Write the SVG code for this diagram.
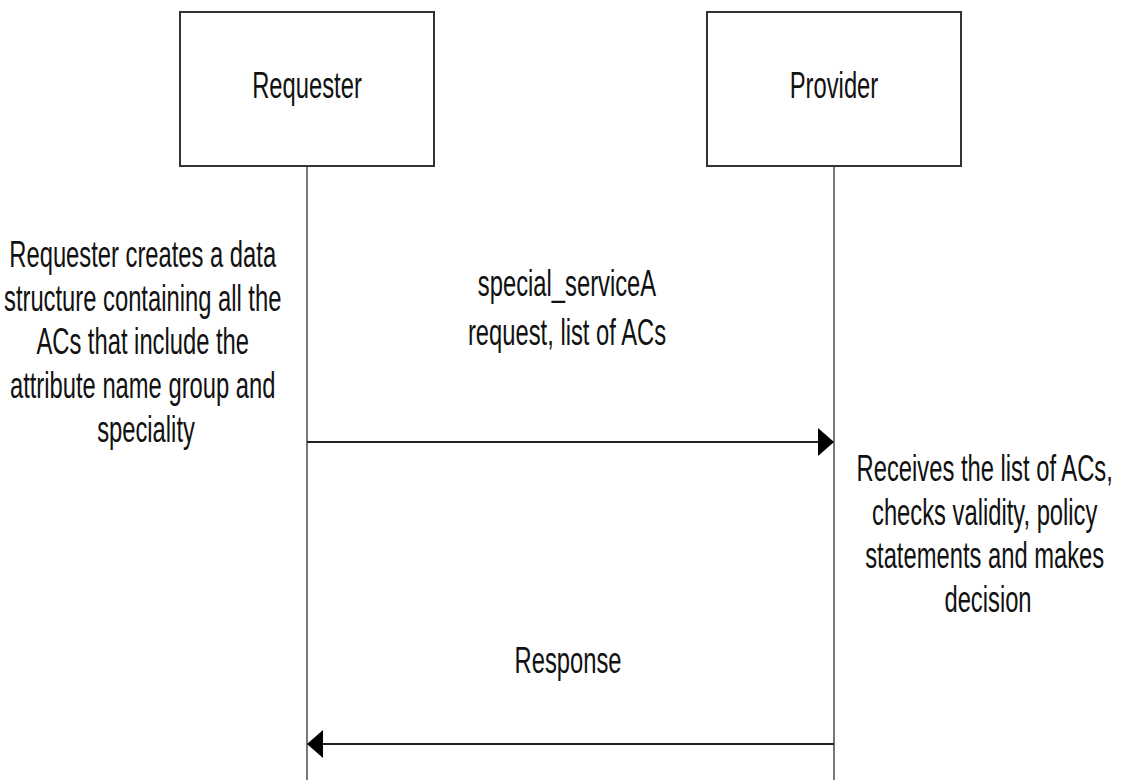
<svg xmlns="http://www.w3.org/2000/svg" width="1125" height="780" viewBox="0 0 1125 780">
  <style>
    .box { fill: #ffffff; stroke: #333333; stroke-width: 2; }
    .life { stroke: #555555; stroke-width: 1.6; fill: none; }
    .msg { stroke: #222222; stroke-width: 2; fill: none; }
    .head { fill: #000000; stroke: none; }
    .lbl { font-family: "Liberation Sans", Arial, sans-serif; font-size: 36px; fill: #111111; text-anchor: middle; }
  </style>
  <rect width="1125" height="780" fill="#ffffff"/>

  <!-- lifelines -->
  <g id="lifelines">
    <line class="life" x1="307" y1="166" x2="307" y2="780"/>
    <line class="life" x1="834" y1="166" x2="834" y2="780"/>
  </g>

  <!-- participants -->
  <g id="requester">
    <rect class="box" x="180" y="12" width="254" height="154"/>
    <text class="lbl" transform="translate(307,98) scale(0.66,1)">Requester</text>
  </g>
  <g id="provider">
    <rect class="box" x="707" y="12" width="254" height="154"/>
    <text class="lbl" transform="translate(834,98) scale(0.66,1)">Provider</text>
  </g>

  <!-- notes beside the lifelines -->
  <g id="requester-note">
    <text class="lbl" transform="translate(146,267) scale(0.66,1)">
      <tspan x="0" y="0">Requester creates a data</tspan>
      <tspan x="0" y="43.7">structure containing all the</tspan>
      <tspan x="0" y="87.4">ACs that include the</tspan>
      <tspan x="0" y="131.1">attribute name group and</tspan>
      <tspan x="0" y="174.8">speciality</tspan>
    </text>
  </g>
  <g id="provider-note">
    <text class="lbl" transform="translate(988,481) scale(0.66,1)">
      <tspan x="0" y="0">Receives the list of ACs,</tspan>
      <tspan x="0" y="43.7">checks validity, policy</tspan>
      <tspan x="0" y="87.4">statements and makes</tspan>
      <tspan x="0" y="131.1">decision</tspan>
    </text>
  </g>

  <!-- messages -->
  <g id="connectors">
    <g id="msg-request">
      <line class="msg" x1="307" y1="442" x2="820" y2="442"/>
      <polygon class="head" points="834,442 818,428 818,456"/>
      <text class="lbl" transform="translate(567,296) scale(0.66,1)">special_serviceA</text>
      <text class="lbl" transform="translate(567,345) scale(0.66,1)">request, list of ACs</text>
    </g>
    <g id="msg-response">
      <line class="msg" x1="834" y1="744" x2="321" y2="744"/>
      <polygon class="head" points="307,744 323,730 323,758"/>
      <text class="lbl" transform="translate(568,673) scale(0.66,1)">Response</text>
    </g>
  </g>
</svg>
